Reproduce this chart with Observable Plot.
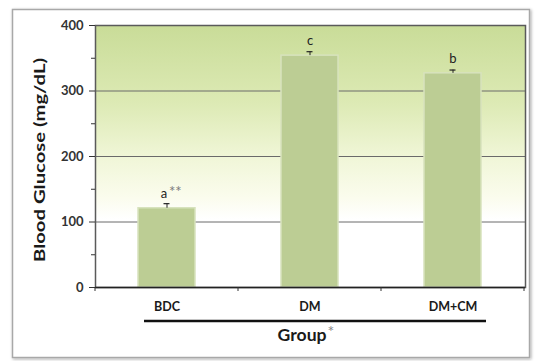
<!DOCTYPE html>
<html>
<head>
<meta charset="utf-8">
<script src="https://cdn.jsdelivr.net/npm/d3@7"></script>
<script src="https://cdn.jsdelivr.net/npm/@observablehq/plot@0.6"></script>
<style>
  html, body { margin: 0; padding: 0; background: #ffffff; }
  #chart svg { display: block; }
</style>
</head>
<body>
<div id="chart"></div>
<script>
// Blood glucose by group (mean ± error), with significance letters
const groups = ["BDC", "DM", "DM+CM"];
const glucose = [121, 354, 327];
const errors = [7, 6, 5];
const letters = ["a", "c", "b"];
const stars = ["**", "", ""];
const yTicks = [0, 100, 200, 300, 400];
const yMinorTicks = [50, 150, 250, 350];
const yTitle = "Blood Glucose (mg/dL)";
const xTitle = "Group";

const rows = groups.map((g, i) => ({
  group: g, value: glucose[i], err: errors[i], letter: letters[i], star: stars[i]
}));

const font = "Lato, 'Open Sans', sans-serif";

// gradient and shadow definitions
const defs = () => {
  const d = d3.create("svg:defs");
  const lg = d.append("linearGradient").attr("id", "bg")
    .attr("x1", 0).attr("y1", 0).attr("x2", 0).attr("y2", 1);
  [["0%", "#c9dc98"], ["30%", "#ddeab5"], ["50%", "#f0f6d7"], ["66%", "#fbfcee"], ["74%", "#ffffff"], ["100%", "#ffffff"]]
    .forEach(([o, c]) => lg.append("stop").attr("offset", o).attr("stop-color", c));
  const f = d.append("filter").attr("id", "shadow").attr("x", "-5%").attr("y", "-5%").attr("width", "110%").attr("height", "110%");
  f.append("feDropShadow").attr("dx", 1).attr("dy", 1).attr("stdDeviation", 1.5).attr("flood-color", "#000").attr("flood-opacity", 0.35);
  return d.node();
};

// outer chart panel
const panel = (index, scales, values, dim) => {
  const g = d3.create("svg:g");
  g.append("rect")
    .attr("x", 12.5).attr("y", 9.5)
    .attr("width", dim.width - 20).attr("height", dim.height - 13)
    .attr("fill", "#ffffff").attr("stroke", "#a8a8a8").attr("stroke-width", 1.5)
    .attr("filter", "url(#shadow)");
  return g.node();
};

// category boundary ticks, group underline and axis titles
const decor = (index, scales, values, dim) => {
  const x = scales.x;
  const step = x.step ? x.step() : (dim.width - dim.marginLeft - dim.marginRight) / groups.length;
  const bw = x.bandwidth();
  const y0 = dim.height - dim.marginBottom;
  const g = d3.create("svg:g");
  const bounds = groups.map(c => x(c) + bw / 2 - step / 2).concat([x(groups[groups.length - 1]) + bw / 2 + step / 2]);
  bounds.forEach(b => g.append("line")
    .attr("x1", b).attr("x2", b).attr("y1", y0).attr("y2", y0 + 4)
    .attr("stroke", "#333").attr("stroke-width", 1));
  const first = x(groups[0]), last = x(groups[groups.length - 1]) + bw;
  g.append("line")
    .attr("x1", first + 6).attr("x2", last + 5)
    .attr("y1", y0 + 34).attr("y2", y0 + 34)
    .attr("stroke", "#111").attr("stroke-width", 2.5);
  const cx = dim.marginLeft + (dim.width - dim.marginLeft - dim.marginRight) / 2;
  const t = g.append("text")
    .attr("x", cx - 4).attr("y", y0 + 54)
    .attr("text-anchor", "middle")
    .attr("font-family", font).attr("font-weight", "bold").attr("font-size", 17)
    .attr("fill", "#1a1a1a");
  t.append("tspan").text(xTitle).attr("textLength", 49).attr("lengthAdjust", "spacingAndGlyphs");
  t.append("tspan").text("*").attr("fill", "#888").attr("font-weight", "normal").attr("font-size", 16).attr("dy", -4).attr("dx", 1);
  const cy = (scales.y(0) + scales.y(400)) / 2 + 4;
  g.append("text")
    .attr("transform", `translate(44.5,${cy}) rotate(-90)`)
    .attr("text-anchor", "middle")
    .attr("font-family", font).attr("font-weight", "bold").attr("font-size", 16)
    .attr("fill", "#1a1a1a")
    .attr("textLength", 204).attr("lengthAdjust", "spacingAndGlyphs")
    .text(yTitle);
  return g.node();
};

const chart = Plot.plot({
  width: 537,
  height: 361,
  marginTop: 25,
  marginLeft: 95,
  marginRight: 12,
  marginBottom: 74,
  style: { fontFamily: font, background: "transparent", overflow: "visible" },
  x: { domain: groups, paddingInner: 0.6, paddingOuter: 0.3, label: null },
  y: { domain: [0, 400], label: null },
  marks: [
    defs,
    panel,
    Plot.frame({ fill: "url(#bg)", stroke: "none" }),
    Plot.gridY(yTicks.slice(1, -1), { stroke: "#6a6a6a", strokeOpacity: 1, strokeWidth: 1 }),
    Plot.barY(rows, { x: "group", y: "value", fill: "#bccd94", stroke: "#d7e2bd", strokeWidth: 1.5 }),
    Plot.ruleX(rows, { x: "group", y1: "value", y2: d => d.value + d.err, stroke: "#222", strokeWidth: 1 }),
    Plot.tickY(rows, { x: "group", y: d => d.value + d.err, stroke: "#222", strokeWidth: 1.2, insetLeft: 25.5, insetRight: 25.5 }),
    Plot.text(rows.filter(d => !d.star), { x: "group", y: d => d.value + d.err, text: "letter", dy: -11, fontSize: 13, fill: "#222", fontFamily: font }),
    Plot.text(rows.filter(d => d.star), { x: "group", y: d => d.value + d.err, text: "letter", dy: -10, dx: -3, fontSize: 13, fill: "#222", fontFamily: font }),
    Plot.text(rows.filter(d => d.star), { x: "group", y: d => d.value + d.err, text: "star", dy: -11, dx: 2, textAnchor: "start", fontSize: 15, fill: "#7a7a7a", fontFamily: font }),
    Plot.frame({ stroke: "#5a5a5a", strokeWidth: 1.5 }),
    Plot.axisY(yTicks, { tickSize: 6, tickPadding: 6, fontWeight: "bold", fontSize: 13, fill: "#333", stroke: "#333", label: null }),
    Plot.axisY(yMinorTicks, { tickSize: 4, text: null, stroke: "#333", label: null }),
    Plot.axisX({ tickSize: 0, tickPadding: 15, fontWeight: "bold", fontSize: 12.5, fill: "#1a1a1a", label: null }),
    Plot.ruleY([0], { stroke: "#222", strokeWidth: 1.5 }),
    decor
  ]
});

document.getElementById("chart").appendChild(chart);
</script>
</body>
</html>
